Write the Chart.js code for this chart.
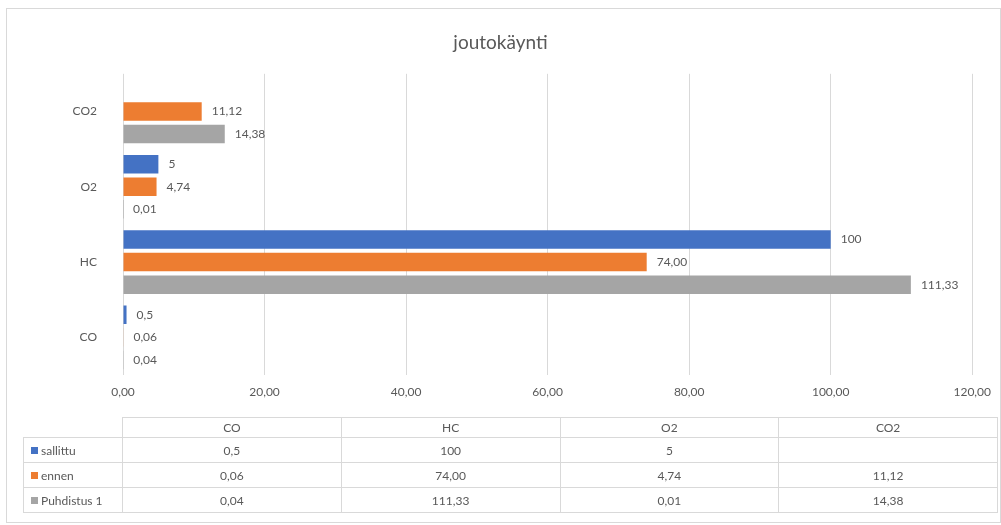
<!DOCTYPE html>
<html>
<head>
<meta charset="utf-8">
<script src="https://cdn.jsdelivr.net/npm/chart.js@4"></script>
<style>
  body { margin: 0; background: #fff; font-family: Lato, "Open Sans", sans-serif; }
  #wrap { position: relative; width: 1001px; height: 525px; }
  #frame { position: absolute; left: 6px; top: 8px; width: 993px; height: 513px; border: 1px solid #d9d9d9; }
  #chart { position: absolute; left: 0; top: 0; }
  #dataTable {
    position: absolute; left: 23px; top: 417px; width: 975px;
    border-collapse: collapse; table-layout: fixed;
    font-size: 12px; color: #595959;
  }
  #dataTable td { border: 1px solid #d9d9d9; text-align: center; padding: 0; height: 24px; white-space: nowrap; }
  #dataTable tr.head td { height: 19px; }
  #dataTable td.corner { border-top: none; border-left: none; }
  #dataTable td.name { text-align: left; padding-left: 7px; }
  .key { display: inline-block; width: 7px; height: 7px; margin-right: 3px; vertical-align: 1px; }
</style>
</head>
<body>
<div id="wrap">
  <div id="frame"></div>
  <canvas id="chart" width="1001" height="525"></canvas>
  <table id="dataTable"></table>
</div>
<script>
const categories = ["CO", "HC", "O2", "CO2"];
const seriesNames = ["sallittu", "ennen", "Puhdistus 1"];
const sallittu = [0.5, 100, 5, null];
const ennen = [0.06, 74.0, 4.74, 11.12];
const puhdistus = [0.04, 111.33, 0.01, 14.38];
// decimals used when printing each series (null = as typed)
const seriesDecimals = [null, 2, 2];
const seriesColors = ["#4472C4", "#ED7D31", "#A5A5A5"];
const xTicks = [0, 20, 40, 60, 80, 100, 120];

const seriesValues = [sallittu, ennen, puhdistus];
const textColor = "#595959";
const fontFamily = "Lato, 'Open Sans', sans-serif";

function fmt(v, decimals) {
  if (v === null || v === undefined) return "";
  const s = decimals === null ? String(v) : v.toFixed(decimals);
  return s.replace(".", ",");
}

// value labels to the right of each bar
const barLabels = {
  id: "barLabels",
  afterDatasetsDraw(chart) {
    const ctx = chart.ctx;
    ctx.save();
    ctx.font = "12px " + fontFamily;
    ctx.fillStyle = textColor;
    ctx.textBaseline = "middle";
    ctx.textAlign = "left";
    chart.data.datasets.forEach((ds, i) => {
      const meta = chart.getDatasetMeta(i);
      meta.data.forEach((bar, j) => {
        const v = ds.data[j];
        if (v === null) return;
        ctx.fillText(fmt(v, seriesDecimals[i]), bar.x + 10, bar.y);
      });
    });
    ctx.restore();
  },
};

new Chart(document.getElementById("chart"), {
  type: "bar",
  data: {
    labels: categories,
    datasets: seriesNames.map((name, i) => ({
      label: name,
      data: seriesValues[i],
      backgroundColor: seriesColors[i],
      categoryPercentage: 0.9,
      barPercentage: 0.82,
    })),
  },
  options: {
    indexAxis: "y",
    responsive: false,
    animation: false,
    layout: { padding: { left: 23, right: 23, bottom: 120 } },
    scales: {
      x: {
        min: 0,
        max: 120,
        afterBuildTicks: (scale) => {
          scale.ticks = xTicks.map((v) => ({ value: v }));
        },
        afterFit: (scale) => {
          scale.height = 30;
        },
        grid: { color: "#d9d9d9", drawTicks: false },
        border: { display: false },
        ticks: {
          padding: 10,
          color: textColor,
          font: { family: fontFamily, size: 12 },
          callback: (v) => fmt(v, 2),
        },
      },
      y: {
        reverse: true,
        afterFit: (scale) => {
          scale.width = 100;
        },
        grid: { display: false, drawTicks: false },
        border: { display: false },
        ticks: {
          padding: 26,
          color: textColor,
          font: { family: fontFamily, size: 12 },
        },
      },
    },
    plugins: {
      legend: { display: false },
      tooltip: { enabled: false },
      title: {
        display: true,
        text: "joutokäynti",
        color: textColor,
        font: { family: fontFamily, size: 19, weight: "normal" },
        padding: { top: 31, bottom: 20 },
      },
    },
  },
  plugins: [barLabels],
});

// data table under the chart
const table = document.getElementById("dataTable");
let html = '<colgroup><col style="width:99px">' + categories.map(() => "<col>").join("") + "</colgroup>";
html += '<tr class="head"><td class="corner"></td>' + categories.map((c) => "<td>" + c + "</td>").join("") + "</tr>";
seriesNames.forEach((name, i) => {
  html += '<tr><td class="name"><span class="key" style="background:' + seriesColors[i] + '"></span>' + name + "</td>";
  html += seriesValues[i].map((v) => "<td>" + fmt(v, seriesDecimals[i]) + "</td>").join("");
  html += "</tr>";
});
table.innerHTML = html;
</script>
</body>
</html>
